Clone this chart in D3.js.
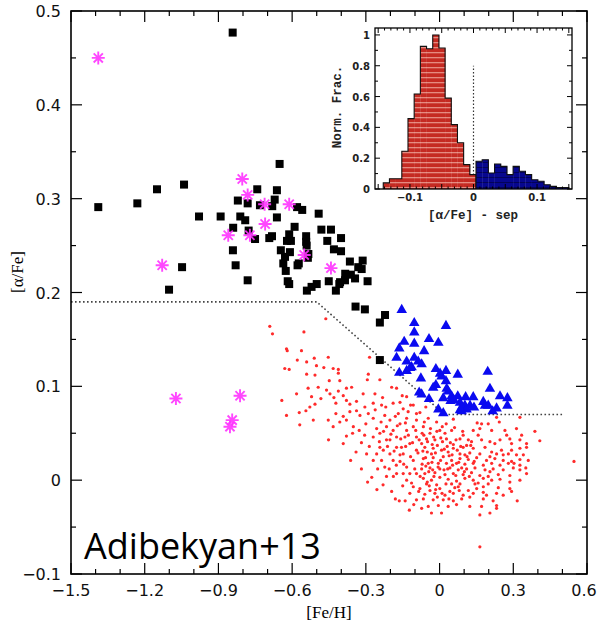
<!DOCTYPE html>
<html>
<head>
<meta charset="utf-8">
<title>[alpha/Fe] vs [Fe/H]</title>
<style>
  body { margin: 0; background: #fff; }
  svg { display: block; }
</style>
</head>
<body>
<script src="https://cdn.jsdelivr.net/npm/d3@7"></script>
<script>
// ---- data: [ [Fe/H], [alpha/Fe] ] ----
var thickDisc = [
  [-1.389,0.291],[-0.842,0.477],[-1.230,0.295],[-1.150,0.310],[-1.040,0.315],[-1.048,0.227],
  [-1.101,0.203],[-0.979,0.281],[-0.891,0.281],[-0.821,0.298],[-0.742,0.310],[-0.662,0.309],
  [-0.651,0.337],[-0.671,0.299],[-0.781,0.295],[-0.731,0.293],[-0.681,0.292],[-0.811,0.281],
  [-0.791,0.277],[-0.662,0.280],[-0.580,0.291],[-0.559,0.288],[-0.492,0.284],[-0.840,0.269],
  [-0.777,0.266],[-0.751,0.257],[-0.693,0.258],[-0.682,0.260],[-0.590,0.270],[-0.612,0.262],
  [-0.621,0.255],[-0.605,0.255],[-0.543,0.260],[-0.543,0.254],[-0.481,0.267],[-0.442,0.267],
  [-0.401,0.258],[-0.457,0.255],[-0.841,0.245],[-0.830,0.229],[-0.781,0.213],[-0.646,0.245],
  [-0.629,0.238],[-0.609,0.243],[-0.636,0.231],[-0.626,0.223],[-0.618,0.212],[-0.612,0.209],
  [-0.573,0.231],[-0.541,0.250],[-0.534,0.241],[-0.540,0.202],[-0.521,0.206],[-0.500,0.209],
  [-0.430,0.246],[-0.401,0.244],[-0.365,0.233],[-0.451,0.212],[-0.422,0.202],[-0.408,0.209],
  [-0.385,0.213],[-0.361,0.219],[-0.344,0.215],[-0.331,0.227],[-0.313,0.234],[-0.317,0.225],
  [-0.293,0.212],[-0.384,0.220],[-0.405,0.211],[-0.342,0.185],[-0.304,0.182],[-0.222,0.176],
  [-0.243,0.168],[-0.243,0.128],[-0.536,0.237],[-0.578,0.229]
];

var halo = [
  [-1.389,0.450],[-0.803,0.321],[-0.781,0.304],[-0.712,0.294],[-0.612,0.294],[-0.710,0.273],
  [-0.860,0.261],[-0.772,0.261],[-0.551,0.240],[-0.442,0.226],[-1.129,0.229],[-1.073,0.087],
  [-0.812,0.090],[-0.844,0.064],[-0.853,0.057]
];

var highAlphaMetalRich = [
  [-0.154,0.182],[-0.103,0.168],[-0.103,0.158],[0.026,0.165],[-0.144,0.148],[-0.103,0.146],
  [-0.043,0.151],[-0.005,0.147],[-0.164,0.141],[-0.063,0.138],[-0.175,0.131],[-0.134,0.127],
  [-0.103,0.131],[-0.087,0.127],[-0.073,0.124],[-0.114,0.121],[-0.134,0.117],[-0.164,0.115],
  [-0.015,0.119],[0.002,0.114],[0.026,0.117],[0.008,0.111],[-0.076,0.109],[0.074,0.113],
  [0.196,0.116],[0.026,0.106],[-0.015,0.102],[-0.026,0.099],[0.029,0.098],[0.035,0.095],
  [0.205,0.098],[-0.083,0.094],[-0.073,0.092],[-0.043,0.087],[0.015,0.088],[0.049,0.090],
  [0.074,0.090],[0.106,0.089],[0.137,0.089],[0.246,0.090],[0.276,0.088],[0.045,0.085],
  [0.083,0.083],[0.103,0.080],[0.124,0.080],[0.140,0.078],[0.090,0.078],[0.178,0.084],
  [0.185,0.080],[0.198,0.080],[0.232,0.077],[0.276,0.080],[-0.005,0.076],[0.015,0.072],
  [0.083,0.075],[0.216,0.074],[0.110,0.076],[-0.120,0.120],[0.090,0.074],[0.058,0.086]
];

var thinDisc = [
  [-0.691,0.164],[-0.680,0.156],[-0.552,0.158],[-0.463,0.172],[-0.623,0.140],[-0.620,0.138],
  [-0.562,0.138],[-0.579,0.128],[-0.510,0.130],[-0.453,0.131],[-0.630,0.119],[-0.612,0.118],
  [-0.541,0.126],[-0.501,0.122],[-0.471,0.120],[-0.433,0.119],[-0.412,0.118],[-0.412,0.114],
  [-0.507,0.112],[-0.541,0.113],[-0.642,0.085],[-0.582,0.092],[-0.623,0.069],[-0.571,0.072],
  [-0.569,0.059],[-0.544,0.074],[-0.528,0.078],[-0.507,0.081],[-0.514,0.064],[-0.521,0.089],
  [-0.535,0.098],[-0.483,0.087],[-0.494,0.099],[-0.460,0.096],[-0.446,0.092],[-0.449,0.106],
  [-0.412,0.095],[-0.406,0.106],[-0.379,0.098],[-0.358,0.099],[-0.392,0.090],[-0.430,0.088],
  [-0.422,0.082],[-0.379,0.085],[-0.365,0.081],[-0.338,0.084],[-0.311,0.092],[-0.290,0.113],
  [-0.294,0.107],[-0.243,0.107],[-0.263,0.092],[-0.232,0.088],[-0.195,0.099],[-0.175,0.098],
  [-0.189,0.082],[-0.236,0.080],[-0.270,0.082],[-0.304,0.078],[-0.338,0.074],[-0.365,0.073],
  [-0.392,0.068],[-0.422,0.071],[-0.453,0.064],[-0.433,0.057],[-0.406,0.062],[-0.379,0.064],
  [-0.351,0.057],[-0.324,0.069],[-0.290,0.071],[-0.270,0.066],[-0.300,0.060],[-0.327,0.053],
  [-0.354,0.050],[-0.379,0.047],[-0.392,0.039],[-0.452,0.043],[-0.362,0.021],[-0.297,0.028],
  [-0.243,0.035],[-0.270,0.046],[-0.216,0.057],[-0.202,0.064],[-0.223,0.069],[-0.168,0.071],
  [-0.148,0.076],[-0.128,0.073],[-0.107,0.080],[-0.161,0.083],[-0.134,0.089],[-0.094,0.064],
  [-0.134,0.066],[-0.161,0.060],[-0.189,0.053],[-0.175,0.046],[-0.216,0.043],[-0.243,0.050],
  [-0.256,0.055],[-0.141,0.046],[-0.155,0.035],[-0.121,0.039],[-0.094,0.046],[-0.202,0.028],
  [-0.223,0.014],[-0.189,0.021],[-0.161,0.027],[-0.293,-0.002],[-0.164,-0.022],[-0.123,-0.032],
  [-0.094,-0.021],[-0.107,0.057],[-0.134,0.053],[-0.094,0.071],[-0.094,0.032],[-0.107,0.021],
  [-0.134,0.000],[-0.121,-0.014],[-0.107,-0.007],[-0.134,0.014],[-0.161,0.020],[-0.148,0.028],
  [-0.175,0.035],[-0.202,0.043],[-0.229,0.032],[-0.256,0.028],[-0.270,0.021],[-0.236,0.021],
  [-0.216,0.004],[-0.175,0.007],[-0.148,0.007],[-0.121,0.007],[-0.094,0.007],[-0.285,0.131],
  [-0.046,0.066],[-0.012,0.062],[0.056,0.065],[0.171,0.060],[0.198,0.060],[0.243,0.062],
  [0.327,0.067],[0.232,0.067],[-0.066,0.057],[0.001,0.053],[0.049,0.053],[0.137,0.053],
  [0.164,0.055],[0.212,0.053],[0.266,0.053],[0.313,0.055],[0.388,0.052],[-0.039,0.050],
  [0.022,0.050],[0.096,0.048],[0.157,0.048],[0.273,0.048],[0.334,0.048],[-0.053,0.044],
  [-0.019,0.043],[0.028,0.044],[0.083,0.044],[0.130,0.041],[0.171,0.043],[0.205,0.041],
  [0.246,0.043],[0.286,0.044],[0.327,0.043],[0.354,0.039],[0.408,0.042],[-0.073,0.039],
  [0.056,0.038],[0.110,0.037],[0.225,0.039],[0.293,0.039],[-0.060,0.035],[-0.026,0.034],
  [0.008,0.032],[0.056,0.034],[0.096,0.035],[0.137,0.034],[0.185,0.035],[0.212,0.030],
  [0.252,0.032],[0.293,0.032],[0.327,0.034],[0.354,0.035],[-0.033,0.028],[0.035,0.030],
  [0.083,0.028],[0.123,0.029],[0.164,0.028],[0.232,0.028],[0.280,0.028],[0.313,0.027],
  [0.341,0.027],[-0.066,0.023],[-0.026,0.024],[0.015,0.025],[0.049,0.021],[0.083,0.023],
  [0.117,0.022],[0.151,0.024],[0.191,0.021],[0.225,0.023],[0.259,0.021],[0.293,0.020],
  [0.327,0.022],[0.361,0.021],[-0.046,0.018],[-0.005,0.018],[0.028,0.018],[0.069,0.018],
  [0.103,0.017],[0.137,0.018],[0.178,0.016],[0.212,0.018],[0.246,0.016],[0.280,0.018],
  [0.547,0.020],[-0.073,0.012],[-0.039,0.013],[0.001,0.012],[0.042,0.013],[0.076,0.011],
  [0.110,0.012],[0.144,0.013],[0.185,0.011],[0.218,0.012],[0.259,0.011],[0.300,0.013],
  [0.327,0.011],[0.354,0.007],[-0.060,0.007],[-0.019,0.008],[0.022,0.006],[0.056,0.007],
  [0.096,0.006],[0.130,0.008],[0.164,0.005],[0.205,0.009],[0.239,0.006],[0.286,0.005],
  [-0.066,0.002],[-0.033,0.000],[0.001,0.003],[0.035,0.001],[0.069,-0.001],[0.103,0.002],
  [0.137,0.000],[0.178,0.002],[0.212,0.000],[0.246,0.001],[0.286,-0.002],[0.327,0.000],
  [-0.053,-0.004],[-0.012,-0.005],[0.049,-0.004],[0.083,-0.004],[0.157,-0.003],[0.198,-0.004],
  [-0.080,-0.009],[-0.039,-0.011],[0.001,-0.009],[0.042,-0.012],[0.076,-0.007],[0.117,-0.011],
  [0.151,-0.009],[0.178,-0.013],[0.239,-0.008],[0.286,-0.009],[-0.060,-0.015],[-0.019,-0.014],
  [0.022,-0.016],[0.056,-0.014],[0.096,-0.016],[0.137,-0.014],[0.191,-0.016],[0.232,-0.014],
  [0.293,-0.012],[0.259,-0.016],[-0.066,-0.020],[-0.026,-0.021],[0.015,-0.021],[0.056,-0.022],
  [0.090,-0.020],[0.123,-0.018],[0.178,-0.020],[0.218,-0.022],[0.316,-0.022],[-0.046,-0.028],
  [-0.005,-0.027],[0.035,-0.028],[0.069,-0.026],[0.123,-0.028],[0.171,-0.028],[0.232,-0.027],
  [-0.073,-0.030],[-0.033,-0.035],[0.008,-0.035],[0.164,-0.037],[0.205,-0.035],[0.232,-0.030],
  [0.164,-0.071],[-0.064,0.048],[-0.009,0.037],[-0.050,0.030],[0.004,0.021],[0.039,0.026],
  [-0.056,0.015],[-0.023,0.004],[0.018,0.011],[0.066,0.005],[-0.042,-0.006],[0.026,-0.004],
  [-0.009,-0.018],[0.080,-0.011],[0.031,0.036],[0.072,0.032],[0.103,0.027],[0.117,0.043],
  [0.012,0.041],[-0.028,0.011],[0.053,0.016],[0.090,0.013],[0.121,0.004],[0.144,-0.004],
  [0.178,-0.007],[0.205,0.025],[0.259,0.027],[0.303,0.018],[0.327,0.016],[0.351,0.013],
  [0.198,0.004],
  [-0.245,0.041],[-0.228,0.052],[-0.212,0.036],[-0.198,0.049],[-0.185,0.031],[-0.172,0.058],
  [-0.158,0.044],[-0.146,0.017],[-0.139,0.061],[-0.127,0.048],[-0.118,0.025],[-0.110,0.040],
  [-0.101,0.012],[-0.097,0.053],[-0.088,0.029],[-0.083,0.043],[-0.079,0.004],[-0.071,0.050],
  [-0.068,0.031],[-0.062,0.062],[-0.057,0.024],[-0.049,0.041],[-0.044,0.009],[-0.037,0.055],
  [-0.031,0.019],[-0.024,0.046],[-0.017,0.029],[-0.011,0.052],[-0.006,0.014],[0.005,0.045],
  [0.011,0.057],[0.019,0.033],[0.027,0.060],[0.033,0.012],[0.044,0.040],[0.051,0.027],
  [0.061,0.056],[0.067,0.043],[0.078,0.019],[0.086,0.036],[0.094,0.052],[0.101,0.009],
  [0.112,0.025],[0.127,0.037],[0.141,0.020],[0.153,0.061],[-0.205,0.012],[-0.188,0.004],
  [-0.176,0.016],[-0.150,-0.006],[-0.138,0.036],[-0.114,-0.003],[-0.085,-0.012],[-0.071,0.017],
  [-0.050,-0.002],[-0.030,0.038],[-0.016,-0.010],[0.010,-0.014],[0.038,-0.020],[0.062,-0.008],
  [-0.262,0.075],[-0.238,0.062],[-0.219,0.078],[-0.180,0.068],[-0.152,0.090],[-0.118,0.080],
  [-0.080,0.072],[-0.056,0.078],[-0.318,0.040],[-0.305,0.048],[-0.286,0.036],[-0.252,0.012],
  [-0.340,0.030],[-0.318,0.012],[-0.276,0.003],[-0.255,-0.010],[-0.230,-0.005],[-0.195,-0.012],
  [-0.180,-0.020],[-0.140,-0.022],[-0.105,-0.026]
];

// dividing line between thin and thick disc
var sepFe = [-1.5, -0.5, 0.02, 0.5];
var sepAlpha = [0.19, 0.19, 0.07, 0.07];

// main axis ticks
var xTickVals = [-1.5, -1.2, -0.9, -0.6, -0.3, 0, 0.3, 0.6];
var xTickLabels = ["\u22121.5", "\u22121.2", "\u22120.9", "\u22120.6", "\u22120.3", "0", "0.3", "0.6"];
var yTickVals = [-0.1, 0, 0.1, 0.2, 0.3, 0.4, 0.5];
var yTickLabels = ["\u22120.1", "0", "0.1", "0.2", "0.3", "0.4", "0.5"];

// inset histogram of [alpha/Fe] - sep (normalised)
var histStart = -0.142;
var histWidth = 0.00973;
var thinHist = [0.04, 0.067, 0.067, 0.245, 0.457, 0.617, 0.926, 0.91, 1.0, 0.915, 0.59, 0.418, 0.30, 0.158, 0.093];
var thickHist = [0.18, 0.19, 0.104, 0.162, 0.147, 0.093, 0.147, 0.115, 0.093, 0.06, 0.05, 0.028, 0.017, 0.01, 0.01];
var insetXTickVals = [-0.1, 0, 0.1];
var insetXTickLabels = ["\u22120.1", "0", "0.1"];
var insetYTickVals = [0, 0.2, 0.4, 0.6, 0.8, 1];
var insetYTickLabels = ["0", "0.2", "0.4", "0.6", "0.8", "1"];

var svg = d3.select("body").append("svg")
  .attr("width", 597)
  .attr("height", 628);

var x = d3.scaleLinear().domain([-1.5, 0.6]).range([71, 587]);
var y = d3.scaleLinear().domain([-0.1, 0.5]).range([574, 11]);

// red dots (thin disc)
svg.append("g").selectAll("circle")
  .data(thinDisc).enter().append("circle")
  .attr("cx", function (d) { return x(d[0]); })
  .attr("cy", function (d) { return y(d[1]); })
  .attr("r", 1.6)
  .style("fill", "#ff2b2b");

// separation line
var sepPts = sepFe.map(function (f, i) { return [f, sepAlpha[i]]; });
svg.append("path")
  .attr("d", d3.line().x(function (d) { return x(d[0]); }).y(function (d) { return y(d[1]); })(sepPts))
  .style("fill", "none")
  .style("stroke", "#444")
  .style("stroke-width", 1.6)
  .style("stroke-dasharray", "1.6,2.4");

// blue triangles
var tri = d3.symbol().type(d3.symbolTriangle).size(48);
svg.append("g").selectAll("path")
  .data(highAlphaMetalRich).enter().append("path")
  .attr("d", tri)
  .attr("transform", function (d) { return "translate(" + x(d[0]) + "," + (y(d[1]) + 0.5) + ")"; })
  .style("fill", "#0a0af0");

// black squares
svg.append("g").selectAll("rect")
  .data(thickDisc).enter().append("rect")
  .attr("x", function (d) { return x(d[0]) - 4; })
  .attr("y", function (d) { return y(d[1]) - 4; })
  .attr("width", 8)
  .attr("height", 8)
  .style("fill", "#000");

// magenta asterisks
function asterisk(r) {
  var s = "";
  [0, 45, 90, 135].forEach(function (a) {
    var t = a * Math.PI / 180, c = Math.cos(t) * r, n = Math.sin(t) * r;
    s += "M" + (-c) + "," + (-n) + "L" + c + "," + n;
  });
  return s;
}
svg.append("g").selectAll("path")
  .data(halo).enter().append("path")
  .attr("d", asterisk(6.5))
  .attr("transform", function (d) { return "translate(" + x(d[0]) + "," + y(d[1]) + ")"; })
  .style("fill", "none")
  .style("stroke", "#ff33ff")
  .style("stroke-width", 1.9)
  .style("opacity", 0.9);

// frame and ticks
var axisG = svg.append("g").style("stroke", "#000");
axisG.append("rect")
  .attr("x", 71).attr("y", 11).attr("width", 516).attr("height", 563)
  .style("fill", "none").style("stroke-width", 1.6);

var xMinor = d3.range(-15, 7).map(function (i) { return i / 10; });
var yMinor = d3.range(-2, 11).map(function (i) { return i / 20; });

function isMajorX(v) { return Math.abs(Math.round(v / 0.3) * 0.3 - v) < 1e-6; }
function isMajorY(v) { return Math.abs(Math.round(v / 0.1) * 0.1 - v) < 1e-6; }

xMinor.forEach(function (v) {
  var len = isMajorX(v) ? 11 : 5;
  axisG.append("line").attr("x1", x(v)).attr("x2", x(v)).attr("y1", 574).attr("y2", 574 - len).style("stroke-width", 1.2);
  axisG.append("line").attr("x1", x(v)).attr("x2", x(v)).attr("y1", 11).attr("y2", 11 + len).style("stroke-width", 1.2);
});
yMinor.forEach(function (v) {
  var len = isMajorY(v) ? 11 : 5;
  axisG.append("line").attr("y1", y(v)).attr("y2", y(v)).attr("x1", 71).attr("x2", 71 + len).style("stroke-width", 1.2);
  axisG.append("line").attr("y1", y(v)).attr("y2", y(v)).attr("x1", 587).attr("x2", 587 - len).style("stroke-width", 1.2);
});

// tick labels
svg.append("g").selectAll("text")
  .data(xTickVals).enter().append("text")
  .attr("x", function (d, i) { return i === xTickVals.length - 1 ? x(d) - 3 : x(d); })
  .attr("y", 596)
  .attr("text-anchor", "middle")
  .style("font-family", "DejaVu Sans")
  .style("font-size", "16px")
  .style("fill", "#111")
  .text(function (d, i) { return xTickLabels[i]; });

svg.append("g").selectAll("text")
  .data(yTickVals).enter().append("text")
  .attr("x", 61)
  .attr("y", function (d) { return y(d) + 6; })
  .attr("text-anchor", "end")
  .style("font-family", "DejaVu Sans")
  .style("font-size", "16px")
  .style("fill", "#111")
  .text(function (d, i) { return yTickLabels[i]; });

svg.append("text")
  .attr("x", 329).attr("y", 618)
  .attr("text-anchor", "middle")
  .style("font-family", "Liberation Serif")
  .style("font-size", "17px")
  .text("[Fe/H]");

svg.append("text")
  .attr("transform", "translate(23,272) rotate(-90)")
  .attr("text-anchor", "middle")
  .style("font-family", "Liberation Serif")
  .style("font-size", "17px")
  .text("[\u03b1/Fe]");

svg.append("text")
  .attr("x", 84).attr("y", 559)
  .style("font-family", "Open Sans")
  .style("font-size", "36px")
  .style("fill", "#000")
  .text("Adibekyan+13");

// ---- inset histogram ----
var hx = d3.scaleLinear().domain([-0.155, 0.155]).range([375, 572]);
var hy = d3.scaleLinear().domain([0, 1.045]).range([189, 28]);

var defs = svg.append("defs");
var pr = defs.append("pattern").attr("id", "redStripe")
  .attr("patternUnits", "userSpaceOnUse").attr("width", 6).attr("height", 5);
pr.append("rect").attr("width", 6).attr("height", 5).style("fill", "#c52a22");
pr.append("rect").attr("y", 2).attr("width", 6).attr("height", 1.3).style("fill", "#e58a80");
var pb = defs.append("pattern").attr("id", "blueStripe")
  .attr("patternUnits", "userSpaceOnUse").attr("width", 6).attr("height", 5);
pb.append("rect").attr("width", 6).attr("height", 5).style("fill", "#07078f");
pb.append("rect").attr("y", 2).attr("width", 6).attr("height", 1).style("fill", "#03035a");

var inset = svg.append("g");

// dotted zero line
inset.append("line")
  .attr("x1", hx(0)).attr("x2", hx(0)).attr("y1", hy(0)).attr("y2", hy(0.8))
  .style("stroke", "#333").style("stroke-width", 1.2).style("stroke-dasharray", "1.5,2");

function histBars(vals, offset, fillId) {
  var edges = vals.map(function (v, i) { return histStart + (offset + i) * histWidth; });
  inset.append("g").selectAll("rect")
    .data(vals).enter().append("rect")
    .attr("x", function (d, i) { return hx(edges[i]); })
    .attr("y", function (d) { return hy(d); })
    .attr("width", function (d, i) { return hx(edges[i] + histWidth) - hx(edges[i]) + 0.3; })
    .attr("height", function (d) { return hy(0) - hy(d); })
    .style("fill", "url(#" + fillId + ")");
  var pts = [[edges[0], 0]];
  vals.forEach(function (v, i) { pts.push([edges[i], v]); });
  var xEnd = edges[vals.length - 1] + histWidth;
  pts.push([xEnd, vals[vals.length - 1]]);
  pts.push([xEnd, 0]);
  inset.append("path")
    .attr("d", d3.line().curve(d3.curveStepAfter)
      .x(function (d) { return hx(d[0]); }).y(function (d) { return hy(d[1]); })(pts))
    .style("fill", "none").style("stroke", "#111").style("stroke-width", 1.1);
}
histBars(thinHist, 0, "redStripe");
histBars(thickHist, thinHist.length, "blueStripe");

// inset frame
inset.append("rect")
  .attr("x", 375).attr("y", 28).attr("width", 197).attr("height", 161)
  .style("fill", "none").style("stroke", "#000").style("stroke-width", 1.3);

var hxTicks = d3.range(-15, 16).map(function (i) { return i / 100; });
hxTicks.forEach(function (v) {
  var len = (Math.abs(Math.round(v * 20) - v * 20) < 1e-6) ? 5 : 2.5;
  inset.append("line").attr("x1", hx(v)).attr("x2", hx(v)).attr("y1", 189).attr("y2", 189 - len).style("stroke", "#000");
  inset.append("line").attr("x1", hx(v)).attr("x2", hx(v)).attr("y1", 28).attr("y2", 28 + len).style("stroke", "#000");
});
var hyTicks = d3.range(0, 11).map(function (i) { return i / 10; });
hyTicks.forEach(function (v, i) {
  var len = i % 2 === 0 ? 5 : 3;
  inset.append("line").attr("y1", hy(v)).attr("y2", hy(v)).attr("x1", 375).attr("x2", 375 + len).style("stroke", "#000");
  inset.append("line").attr("y1", hy(v)).attr("y2", hy(v)).attr("x1", 572).attr("x2", 572 - len).style("stroke", "#000");
});

inset.append("g").selectAll("text")
  .data(insetXTickVals).enter().append("text")
  .attr("x", function (d) { return hx(d); })
  .attr("y", 201)
  .attr("text-anchor", "middle")
  .style("font-family", "DejaVu Sans")
  .style("font-size", "10px")
  .style("font-weight", "bold")
  .style("fill", "#222")
  .text(function (d, i) { return insetXTickLabels[i]; });

inset.append("g").selectAll("text")
  .data(insetYTickVals).enter().append("text")
  .attr("x", 370)
  .attr("y", function (d) { return hy(d) + 4; })
  .attr("text-anchor", "end")
  .style("font-family", "DejaVu Sans")
  .style("font-size", "10px")
  .style("font-weight", "bold")
  .style("fill", "#222")
  .text(function (d, i) { return insetYTickLabels[i]; });

inset.append("text")
  .attr("x", 473).attr("y", 219)
  .attr("text-anchor", "middle")
  .style("font-family", "Liberation Mono")
  .style("font-size", "12.5px")
  .style("font-weight", "bold")
  .style("fill", "#222")
  .text("[\u03b1/Fe] - sep");

inset.append("text")
  .attr("transform", "translate(341,107) rotate(-90)")
  .attr("text-anchor", "middle")
  .style("font-family", "Liberation Mono")
  .style("font-size", "12.5px")
  .style("font-weight", "bold")
  .style("fill", "#222")
  .text("Norm. Frac.");
</script>
</body>
</html>
